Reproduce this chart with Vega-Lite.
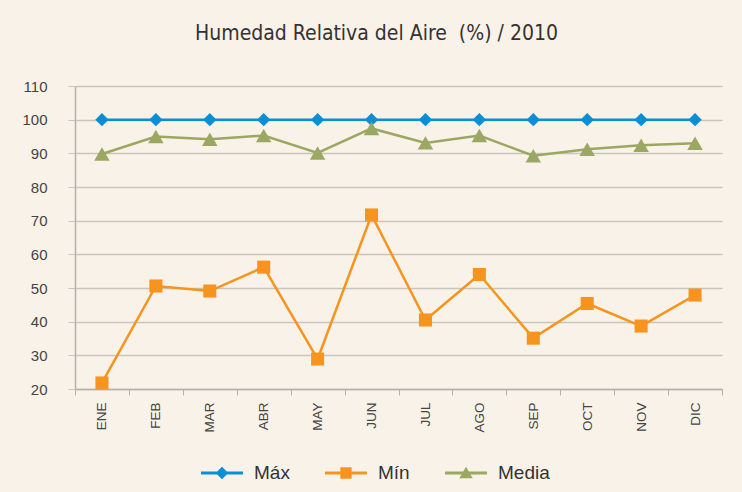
{
  "$schema": "https://vega.github.io/schema/vega-lite/v6.json",
  "width": 647,
  "height": 303,
  "autosize": "none",
  "padding": {"left": 75, "top": 86, "right": 20, "bottom": 103},
  "background": "#f9f2e8",
  "title": {
    "text": "Humedad Relativa del Aire \u00a0(%) / 2010",
    "font": "'DejaVu Sans Condensed', 'Roboto Condensed', Roboto",
    "fontSize": 21,
    "fontWeight": "normal",
    "color": "#333333",
    "offset": 35,
    "dx": -22,
    "anchor": "middle"
  },
  "config": {
    "view": {"stroke": null},
    "axis": {"labelFont": "Liberation Sans", "labelColor": "#444444"}
  },
  "data": {
    "values": [
      {"mes": "ENE", "serie": "Máx", "valor": 100},
      {"mes": "FEB", "serie": "Máx", "valor": 100},
      {"mes": "MAR", "serie": "Máx", "valor": 100},
      {"mes": "ABR", "serie": "Máx", "valor": 100},
      {"mes": "MAY", "serie": "Máx", "valor": 100},
      {"mes": "JUN", "serie": "Máx", "valor": 100},
      {"mes": "JUL", "serie": "Máx", "valor": 100},
      {"mes": "AGO", "serie": "Máx", "valor": 100},
      {"mes": "SEP", "serie": "Máx", "valor": 100},
      {"mes": "OCT", "serie": "Máx", "valor": 100},
      {"mes": "NOV", "serie": "Máx", "valor": 100},
      {"mes": "DIC", "serie": "Máx", "valor": 100},
      {"mes": "ENE", "serie": "Mín", "valor": 21.8},
      {"mes": "FEB", "serie": "Mín", "valor": 50.6},
      {"mes": "MAR", "serie": "Mín", "valor": 49.1},
      {"mes": "ABR", "serie": "Mín", "valor": 56.2},
      {"mes": "MAY", "serie": "Mín", "valor": 28.9},
      {"mes": "JUN", "serie": "Mín", "valor": 71.7},
      {"mes": "JUL", "serie": "Mín", "valor": 40.5},
      {"mes": "AGO", "serie": "Mín", "valor": 54},
      {"mes": "SEP", "serie": "Mín", "valor": 35.1},
      {"mes": "OCT", "serie": "Mín", "valor": 45.4},
      {"mes": "NOV", "serie": "Mín", "valor": 38.7},
      {"mes": "DIC", "serie": "Mín", "valor": 47.9},
      {"mes": "ENE", "serie": "Media", "valor": 89.8},
      {"mes": "FEB", "serie": "Media", "valor": 95},
      {"mes": "MAR", "serie": "Media", "valor": 94.2},
      {"mes": "ABR", "serie": "Media", "valor": 95.3},
      {"mes": "MAY", "serie": "Media", "valor": 90.1},
      {"mes": "JUN", "serie": "Media", "valor": 97.4},
      {"mes": "JUL", "serie": "Media", "valor": 93.1},
      {"mes": "AGO", "serie": "Media", "valor": 95.3},
      {"mes": "SEP", "serie": "Media", "valor": 89.3},
      {"mes": "OCT", "serie": "Media", "valor": 91.2},
      {"mes": "NOV", "serie": "Media", "valor": 92.4},
      {"mes": "DIC", "serie": "Media", "valor": 93}
    ]
  },
  "encoding": {
    "x": {
      "field": "mes",
      "type": "nominal",
      "sort": ["ENE", "FEB", "MAR", "ABR", "MAY", "JUN", "JUL", "AGO", "SEP", "OCT", "NOV", "DIC"],
      "scale": {"paddingInner": 0, "paddingOuter": 0},
      "axis": {
        "title": null,
        "tickBand": "extent",
        "labelAngle": -90,
        "labelFontSize": 13.5,
        "labelPadding": 7,
        "tickSize": 6,
        "tickColor": "#b5b1aa",
        "domainColor": "#b5b1aa",
        "domainWidth": 1.5,
        "grid": false
      }
    },
    "y": {
      "field": "valor",
      "type": "quantitative",
      "scale": {"domain": [20, 110], "nice": false, "zero": false},
      "axis": {
        "title": null,
        "values": [20, 30, 40, 50, 60, 70, 80, 90, 100, 110],
        "grid": true,
        "gridColor": "#c9c5be",
        "gridWidth": 1.5,
        "tickSize": 7,
        "tickColor": "#c9c5be",
        "domainColor": "#b5b1aa",
        "domainWidth": 1.5,
        "labelFontSize": 15,
        "labelPadding": 21
      }
    },
    "color": {
      "field": "serie",
      "type": "nominal",
      "scale": {"domain": ["Máx", "Mín", "Media"], "range": ["#0a8fd6", "#f7941d", "#9aa862"]},
      "legend": {
        "title": null,
        "orient": "none",
        "legendX": 126,
        "legendY": 366,
        "direction": "horizontal",
        "columnPadding": 35,
        "labelFontSize": 19,
        "labelFont": "Liberation Sans",
        "labelColor": "#333333",
        "labelOffset": 11,
        "symbolSize": 1764,
        "symbolOpacity": 1,
        "symbolStrokeWidth": 0,
        "encoding": {
          "symbols": {
            "shape": {"value": {"expr": "datum.value === 'Máx' ? 'M-1,-0.07H1V0.07H-1Z M0,-0.3L0.3,0L0,0.3L-0.3,0Z' : datum.value === 'Mín' ? 'M-1,-0.07H1V0.07H-1Z M-0.27,-0.27H0.27V0.27H-0.27Z' : 'M-1,-0.07H1V0.07H-1Z M0,-0.3L0.32,0.25H-0.32Z'"}},
            "fill": {"value": {"expr": "datum.value === 'Máx' ? '#0a8fd6' : datum.value === 'Mín' ? '#f7941d' : '#9aa862'"}}
          }
        }
      }
    }
  },
  "layer": [
    {"mark": {"type": "line", "strokeWidth": 2.5}},
    {
      "transform": [{"filter": "datum.serie === 'Máx'"}],
      "mark": {"type": "point", "filled": true, "opacity": 1, "shape": "diamond", "size": 180}
    },
    {
      "transform": [{"filter": "datum.serie === 'Mín'"}],
      "mark": {"type": "point", "filled": true, "opacity": 1, "shape": "square", "size": 170}
    },
    {
      "transform": [{"filter": "datum.serie === 'Media'"}],
      "mark": {"type": "point", "filled": true, "opacity": 1, "shape": "triangle-up", "size": 240}
    }
  ]
}
